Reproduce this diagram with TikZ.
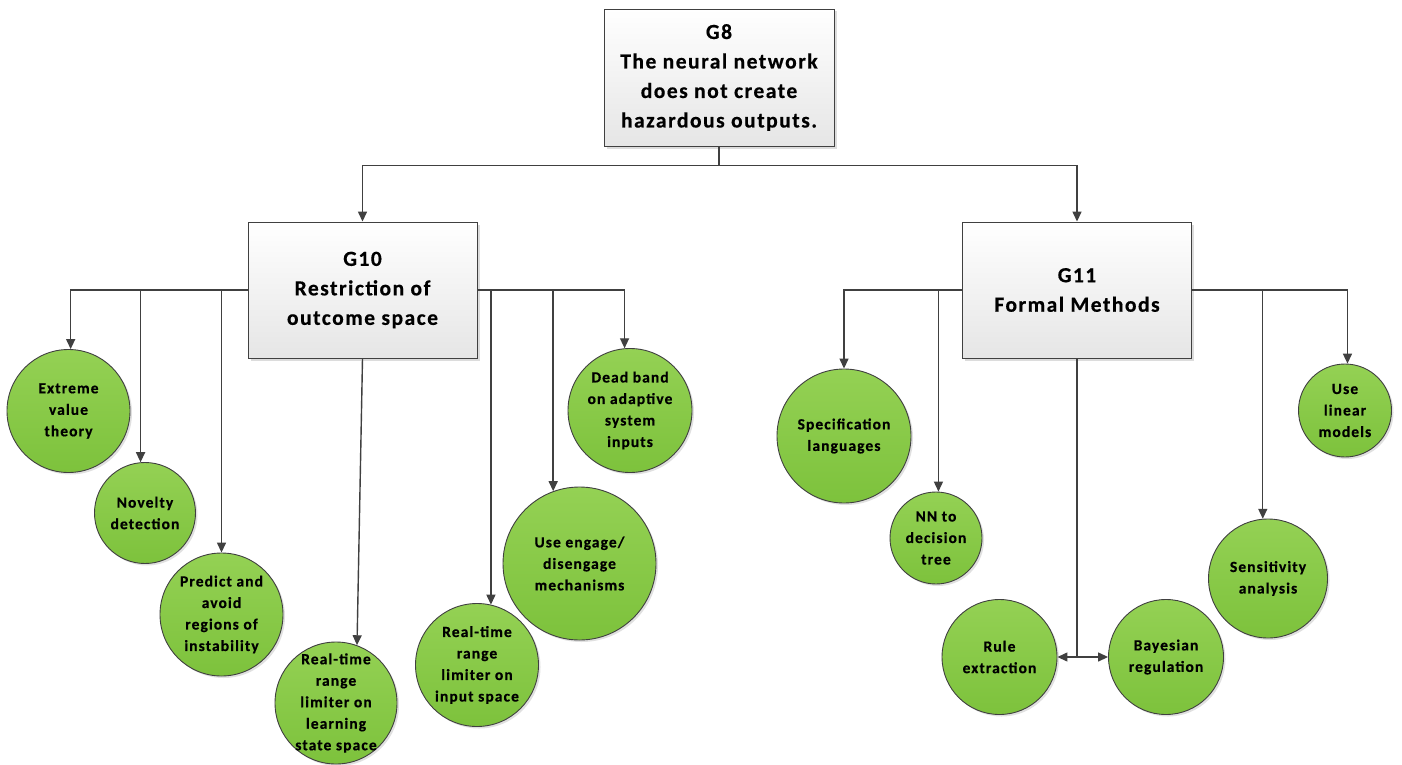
\documentclass[tikz,border=0pt]{standalone}
\usepackage{fontspec}
\setmainfont{Carlito}[LetterSpace=7, BoldFeatures={FakeBold=0.5}]
\usetikzlibrary{arrows.meta,shadows,positioning}
\definecolor{linec}{HTML}{404040}
\definecolor{leaftop}{HTML}{94D154}
\definecolor{leafbot}{HTML}{7DC23C}
\tikzset{
  goalbox/.style={rectangle, draw=linec, line width=0.9pt,
    top color=white, bottom color=black!10,
    minimum width=229, minimum height=136, inner sep=0pt,
    align=center, font=\fontsize{21.5}{29.5}\selectfont\bfseries,
    drop shadow={shadow xshift=2.5pt, shadow yshift=-2.5pt, fill=black!30, opacity=0.45}},
  leaf/.style={circle, draw=linec, line width=0.9pt,
    top color=leaftop, bottom color=leafbot, inner sep=0pt,
    drop shadow={shadow xshift=2pt, shadow yshift=-2pt, fill=black!30, opacity=0.4}},
  lbl/.style={align=center, inner sep=0pt, font=\fontsize{15.5}{21.5}\selectfont\bfseries},
  conn/.style={draw=linec, line width=1.4pt, -{Triangle[length=10pt,width=9pt]}}
}
\begin{document}
\begin{tikzpicture}[x=1pt,y=-1pt]
  \useasboundingbox[fill=white] (0,0) rectangle (1402,765);

  % goals
  \node[goalbox, minimum width=230, minimum height=137] (g8) at (719,77.5)
    {G8\\The neural network\\does not create\\hazardous outputs.};
  \node[goalbox] (g10) at (362.5,290) {G10\\Restriction of\\outcome space};
  \node[goalbox] (g11) at (1077,290) {G11\\Formal Methods};

  % strategies under G10
  \node[leaf, minimum size=123] (evt) at (68.5,411) {};
  \node[lbl] at (evt) {Extreme\\value\\theory};
  \node[leaf, minimum size=101] (nov) at (145,513) {};
  \node[lbl] at (nov) {Novelty\\detection};
  \node[leaf, minimum size=123] (pred) at (221.5,614.5) {};
  \node[lbl] at (pred) {Predict and\\avoid\\regions of\\instability};
  \node[leaf, minimum size=122] (lss) at (336,703) {};
  \node[lbl] at (lss) {Real-time\\range\\limiter on\\learning\\state space};
  \node[leaf, minimum size=123] (inp) at (477,665) {};
  \node[lbl] at (inp) {Real-time\\range\\limiter on\\input space};
  \node[leaf, minimum size=153] (eng) at (579.5,563.5) {};
  \node[lbl] at (eng) {Use engage/\\disengage\\mechanisms};
  \node[leaf, minimum size=124] (dead) at (630,410.5) {};
  \node[lbl] at (dead) {Dead band\\on adaptive\\system\\inputs};

  % strategies under G11
  \node[leaf, minimum size=134] (spec) at (844,436) {};
  \node[lbl] at (spec) {Specification\\languages};
  \node[leaf, minimum size=92] (nn) at (936,538) {};
  \node[lbl] at (nn) {NN to\\decision\\tree};
  \node[leaf, minimum size=115] (rule) at (999.5,657) {};
  \node[lbl] at (rule) {Rule\\extraction};
  \node[leaf, minimum size=115] (bay) at (1166,657) {};
  \node[lbl] at (bay) {Bayesian\\regulation};
  \node[leaf, minimum size=119] (sens) at (1268,578.5) {};
  \node[lbl] at (sens) {Sensitivity\\analysis};
  \node[leaf, minimum size=93] (lin) at (1345,410.5) {};
  \node[lbl] at (lin) {Use\\linear\\models};

  % G8 decomposition
  \draw[conn] (g8.south) -- ++(0,19) -| (g10.north);
  \draw[conn] (g8.south) -- ++(0,19) -| (g11.north);

  % G10 decomposition
  \draw[conn] (g10.west) -| (evt.88);
  \draw[conn] (g10.west) -| (nov.95);
  \draw[conn] (g10.west) -| (pred.north);
  \draw[conn] (g10.south) -- (lss.70);
  \draw[conn] (g10.east) -| (inp.77);
  \draw[conn] (g10.east) -| (eng.110);
  \draw[conn] (g10.east) -| (dead.95);

  % G11 decomposition
  \draw[conn] (g11.west) -| (spec.north);
  \draw[conn] (g11.west) -| (nn.87);
  \draw[conn] (g11.east) -| (sens.95);
  \draw[conn] (g11.east) -| (lin.87);
  \draw[conn] (g11.south) |- (rule.east);
  \draw[conn] (g11.south) |- (bay.west);
\end{tikzpicture}
\end{document}
